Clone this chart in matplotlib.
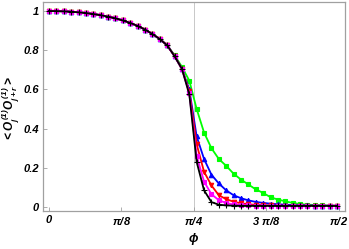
import numpy as np
import matplotlib
matplotlib.use('Agg')
import matplotlib.pyplot as plt

plt.rcParams['mathtext.fontset'] = 'custom'
plt.rcParams['mathtext.rm'] = 'Liberation Sans:bold:italic'
plt.rcParams['mathtext.it'] = 'Liberation Sans:bold:italic'
plt.rcParams['mathtext.bf'] = 'Liberation Sans:bold:italic'

# phi grid (step 0.04) and correlation values
phi = [0.04 * k for k in range(40)]

common = [1.0, 0.9996, 0.9984, 0.9963, 0.9934, 0.9896, 0.9847, 0.9787, 0.9713,
          0.9626, 0.9519, 0.9393, 0.924, 0.9054, 0.8827, 0.857, 0.825]
tail = [0.006] * 8

green = common + [0.775, 0.715, 0.645, 0.50, 0.38, 0.30, 0.245, 0.21, 0.17, 0.14,
                  0.115, 0.09, 0.072, 0.05, 0.038, 0.029, 0.021, 0.015, 0.012,
                  0.010, 0.008, 0.007, 0.006]
blue = common + [0.77, 0.705, 0.60, 0.36, 0.245, 0.165, 0.12, 0.085, 0.06, 0.045,
                 0.034, 0.026, 0.021, 0.017, 0.014, 0.012, 0.010, 0.009, 0.008,
                 0.007, 0.007, 0.006, 0.006]
red = common + [0.77, 0.705, 0.59, 0.32, 0.18, 0.11, 0.06, 0.04, 0.027, 0.019,
                0.014, 0.011, 0.009, 0.008, 0.007] + tail
magenta = common + [0.77, 0.705, 0.58, 0.26, 0.13, 0.065, 0.035, 0.02, 0.013,
                    0.010, 0.008, 0.007, 0.006, 0.006, 0.006] + tail
black = common + [0.77, 0.705, 0.575, 0.23, 0.085, 0.025, 0.012, 0.008, 0.007,
                  0.006, 0.006, 0.006, 0.006, 0.006, 0.006] + tail

series = [
    (green, '#00ff00', 's', 2.6),
    (blue, '#0000ff', '^', 3.2),
    (red, '#ff0000', 'v', 3.2),
    (magenta, '#ff00ff', 's', 3.0),
    (black, '#000000', '+', 4.0),
]

xticks = [0, np.pi / 8, np.pi / 4, 3 * np.pi / 8, np.pi / 2]
xlabels = ['0', r'$\pi/8$', r'$\pi/4$', r'$3\ \pi/8$', r'$\pi/2$']
yticks = [0, 0.2, 0.4, 0.6, 0.8, 1.0]
ylabels = ['0', '0.2', '0.4', '0.6', '0.8', '1']

fig = plt.figure(figsize=(3.49, 2.49), dpi=100)
ax = fig.add_axes([0.1232, 0.1526, 0.8653, 0.8394])

ax.axvline(np.pi / 4, color='#c8c8c8', lw=0.7, zorder=1)
for i, (vals, color, marker, ms) in enumerate(series):
    ax.plot(phi, vals, color=color, lw=1.3, marker=marker, ms=ms,
            mew=0.8, zorder=2 + i)

ax.set_xlim(-0.0325, 1.6035)
ax.set_ylim(-0.0204, 1.046)
ax.set_xticks(xticks)
ax.set_xticklabels(xlabels)
ax.set_yticks(yticks)
ax.set_yticklabels(ylabels)

frame = '#a0a0a0'
for sp in ax.spines.values():
    sp.set_color(frame)
    sp.set_linewidth(0.9)
ax.tick_params(direction='in', length=3, width=0.6, color=frame,
               labelsize=8, pad=3)
for lab in ax.get_xticklabels() + ax.get_yticklabels():
    lab.set_fontfamily('Liberation Sans')
    lab.set_fontweight('bold')
    lab.set_fontstyle('italic')

ax.set_ylabel(r'$<O_j^{\,(1)}O_{j+r}^{\,(1)}>$', fontsize=8.5)
ax.yaxis.set_label_coords(-0.07, 0.49)
ax.set_xlabel(r'$\phi$', fontsize=9)
ax.xaxis.set_label_coords(0.5, -0.095)

fig.savefig('out.png', dpi=100)
